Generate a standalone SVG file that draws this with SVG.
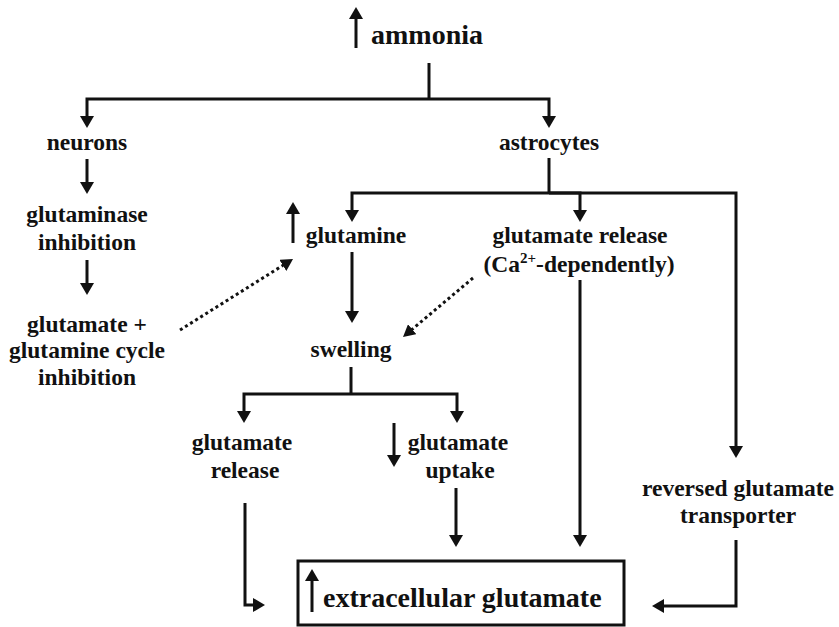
<svg xmlns="http://www.w3.org/2000/svg" width="839" height="627" viewBox="0 0 839 627">
<style>
.t{font-family:"Liberation Serif","Times New Roman",serif;font-weight:bold;font-size:23.5px;fill:#111;text-anchor:middle}
.big{font-size:28px;text-anchor:start}
.ln{fill:none;stroke:#111;stroke-width:3;marker-end:url(#ah)}
.pl{fill:none;stroke:#111;stroke-width:3}
.dot{fill:none;stroke:#111;stroke-width:3;stroke-dasharray:3 3;marker-end:url(#ahd)}
</style>
<defs>
<marker id="ah" viewBox="0 0 12 14" refX="3" refY="7" markerWidth="12" markerHeight="14" markerUnits="userSpaceOnUse" orient="auto">
<path d="M0,0 L12,7 L0,14 z" fill="#111"/>
</marker>
<marker id="ahd" viewBox="0 0 12 13" refX="3" refY="6.5" markerWidth="12" markerHeight="13" markerUnits="userSpaceOnUse" orient="auto">
<path d="M0,0 L12,6.5 L0,13 z" fill="#111"/>
</marker>
</defs>
<rect width="839" height="627" fill="#fff"/>

<g id="connectors">
<path class="pl" d="M429,63 V99"/>
<path class="ln" d="M429,99 H87 V119"/>
<path class="ln" d="M429,99 H549 V119"/>
<path class="ln" d="M87,159 V185"/>
<path class="ln" d="M87,260 V286"/>
<path class="pl" d="M549,158 V193"/>
<path class="ln" d="M549,193 H352 V213"/>
<path class="ln" d="M549,193 H580 V213"/>
<path class="ln" d="M549,193 H736 V449"/>
<path class="ln" d="M352,252 V314"/>
<path class="ln" d="M580,280 V538"/>
<path class="pl" d="M351,367 V394"/>
<path class="ln" d="M351,394 H244 V414"/>
<path class="ln" d="M351,394 H457 V414"/>
<path class="ln" d="M456,488 V538"/>
<path class="ln" d="M245,503 V605 H256"/>
<path class="ln" d="M736,540 V606 H661"/>
<path class="dot" d="M180,330 L285.4,263.8"/>
<path class="dot" d="M473,278 L409.9,331.2"/>
</g>

<g id="ammonia">
<path class="ln" d="M356,48 V16"/>
<text class="t big" x="371" y="44">ammonia</text>
</g>
<g id="neurons"><text class="t" x="87" y="150">neurons</text></g>
<g id="glutaminase-inhibition">
<text class="t" x="87" y="222">glutaminase</text>
<text class="t" x="87" y="250">inhibition</text>
</g>
<g id="cycle-inhibition">
<text class="t" x="87" y="332">glutamate +</text>
<text class="t" x="87" y="358">glutamine cycle</text>
<text class="t" x="87" y="385">inhibition</text>
</g>
<g id="astrocytes"><text class="t" x="549" y="150">astrocytes</text></g>
<g id="glutamine">
<path class="ln" d="M293,243 V211"/>
<text class="t" x="356" y="243">glutamine</text>
</g>
<g id="glutamate-release-ca">
<text class="t" x="580" y="243">glutamate release</text>
<text class="t" x="579" y="272">(Ca<tspan font-size="15" dy="-9">2+</tspan><tspan dy="9">-dependently)</tspan></text>
</g>
<g id="swelling"><text class="t" x="351" y="357">swelling</text></g>
<g id="glutamate-release">
<text class="t" x="242" y="450">glutamate</text>
<text class="t" x="245" y="478">release</text>
</g>
<g id="glutamate-uptake">
<path class="ln" d="M394,423 V458"/>
<text class="t" x="458" y="450">glutamate</text>
<text class="t" x="460" y="478">uptake</text>
</g>
<g id="reversed-transporter">
<text class="t" x="738" y="496">reversed glutamate</text>
<text class="t" x="738" y="523">transporter</text>
</g>
<g id="extracellular-glutamate">
<rect x="298" y="561" width="326" height="64" fill="none" stroke="#111" stroke-width="3"/>
<path class="ln" d="M312,612 V578"/>
<text class="t big" x="323" y="607" font-size="28.5">extracellular glutamate</text>
</g>
</svg>
